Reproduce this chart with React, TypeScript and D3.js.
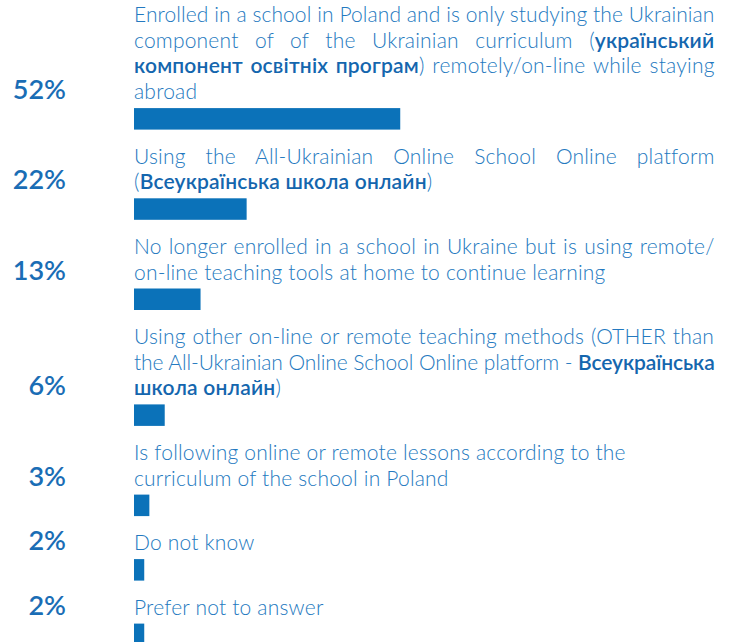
import React, { useMemo } from "react";
import * as d3 from "d3";

// ---- data ----
const values = [52, 22, 13, 6, 3, 2, 2];
const percentLabels = ["52%", "22%", "13%", "6%", "3%", "2%", "2%"];
type Seg = { t: string; b?: boolean };
const labelLines: Seg[][][] = [
  [
    [{ t: "Enrolled in a school in Poland and is only studying the Ukrainian" }],
    [{ t: "component of of the Ukrainian curriculum (" }, { t: "український", b: true }],
    [{ t: "компонент освітніх програм", b: true }, { t: ") remotely/on-line while staying" }],
    [{ t: "abroad" }],
  ],
  [
    [{ t: "Using the All-Ukrainian Online School Online platform" }],
    [{ t: "(" }, { t: "Всеукраїнська школа онлайн", b: true }, { t: ")" }],
  ],
  [
    [{ t: "No longer enrolled in a school in Ukraine but is using remote/" }],
    [{ t: "on-line teaching tools at home to continue learning" }],
  ],
  [
    [{ t: "Using other on-line or remote teaching methods (OTHER than" }],
    [{ t: "the All-Ukrainian Online School Online platform - " }, { t: "Всеукраїнська", b: true }],
    [{ t: "школа онлайн", b: true }, { t: ")" }],
  ],
  [
    [{ t: "Is following online or remote lessons according to the" }],
    [{ t: "curriculum of the school in Poland" }],
  ],
  [[{ t: "Do not know" }]],
  [[{ t: "Prefer not to answer" }]],
];
const justified = [true, true, true, true, false, false, false];

// ---- style ----
const W = 734;
const H = 642;
const textX = 134;
const textRight = 715;
const pctRight = 66;
const firstBaseline = 22;
const lineH = 25.7;
const gapToBar = 9;
const barH = 21.5;
const gapAfterBar = 34;
const FONT = "Lato";
const fs = 21;
const ls = 0.2;
const boldW = 600;
const barColor = "#0b72b9";
const textColor = "#2479c0";
const boldColor = "#1466ae";
const pctColor = "#1a6db5";

export default function App() {
  const x = d3.scaleLinear().domain([0, 100]).range([0, 512]);

  const layout = useMemo(() => {
    const ctx = document.createElement("canvas").getContext("2d")!;
    const measure = (s: Seg) => {
      ctx.font = `${s.b ? boldW : 300} ${fs}px "${FONT}"`;
      return ctx.measureText(s.t).width;
    };
    let y = firstBaseline;
    return labelLines.map((lines, i) => {
      const out = lines.map((segs, j) => {
        const baseline = y + j * lineH;
        const isLast = j === lines.length - 1;
        let ws = 0;
        let lsp = ls;
        if (justified[i] && !isLast) {
          const chars = segs.reduce((a, s) => a + s.t.length, 0);
          const nat = segs.reduce((a, s) => a + measure(s), 0) + ls * chars;
          const spaces = segs.reduce((a, s) => a + (s.t.match(/ /g) || []).length, 0);
          const free = textRight - textX - nat;
          if (free >= 0) {
            if (spaces > 0) ws = free / spaces;
          } else {
            lsp = ls + free / chars;
          }
        }
        return { segs, baseline, ws, lsp };
      });
      const lastBaseline = y + (lines.length - 1) * lineH;
      const barY = lastBaseline + gapToBar;
      y = barY + barH + gapAfterBar;
      return { lines: out, lastBaseline, barY };
    });
  }, []);

  return (
    <svg width={W} height={H} style={{ position: "absolute", left: 0, top: 0 }}>
      <rect width={W} height={H} fill="#ffffff" />
      {layout.map((it, i) => (
        <g key={i}>
          {it.lines.map((ln, j) => (
            <text
              key={j}
              x={textX}
              y={ln.baseline}
              fontFamily={FONT}
              fontSize={fs}
              letterSpacing={ln.lsp}
              style={{ wordSpacing: `${ln.ws}px`, whiteSpace: "pre" }}
            >
              {ln.segs.map((s, k) => (
                <tspan key={k} fontWeight={s.b ? boldW : 300} fill={s.b ? boldColor : textColor}>
                  {s.t}
                </tspan>
              ))}
            </text>
          ))}
          <text
            x={pctRight}
            y={it.lastBaseline}
            textAnchor="end"
            fontFamily={FONT}
            fontWeight={600}
            fontSize={27}
            fill={pctColor}
          >
            {percentLabels[i]}
          </text>
          <rect x={textX} y={it.barY} width={x(values[i])} height={barH} fill={barColor} />
        </g>
      ))}
    </svg>
  );
}
